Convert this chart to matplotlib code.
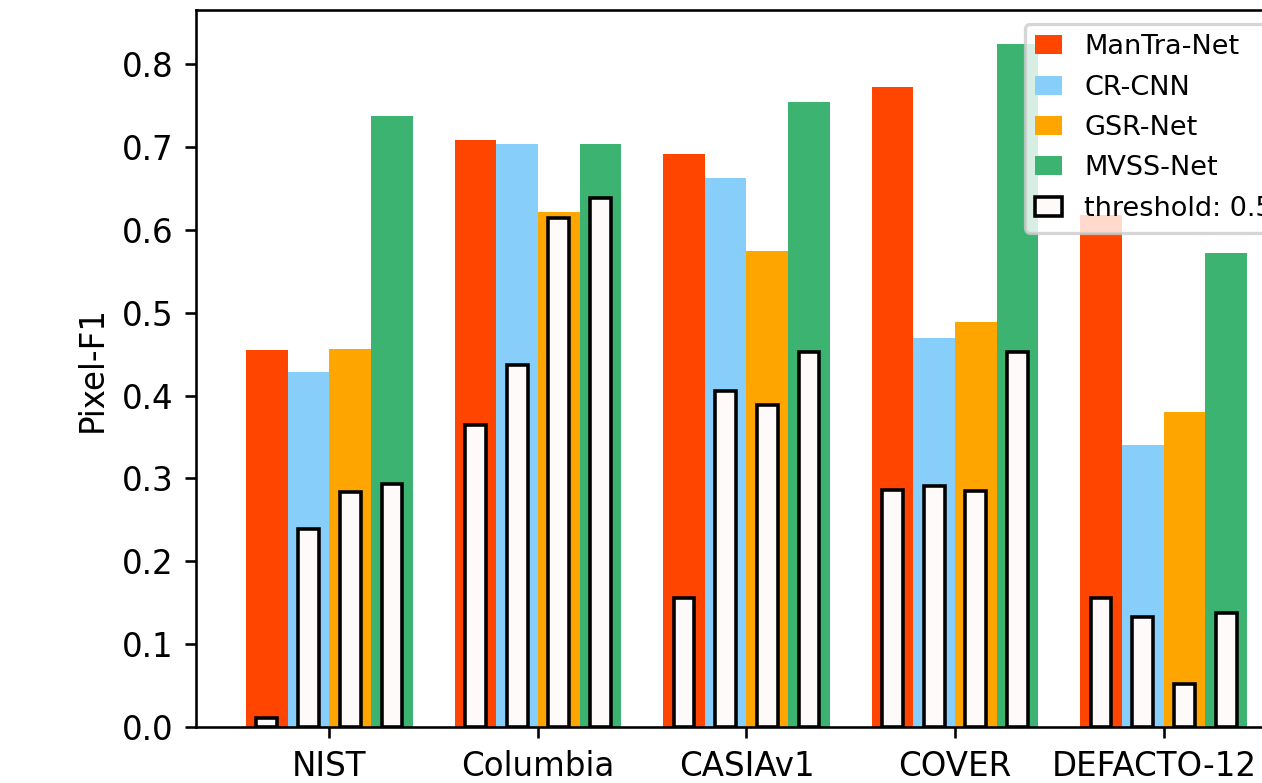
import numpy as np
import matplotlib.pyplot as plt
from matplotlib.transforms import ScaledTranslation

datasets = ['NIST', 'Columbia', 'CASIAv1', 'COVER', 'DEFACTO-12']
methods = ['ManTra-Net', 'CR-CNN', 'GSR-Net', 'MVSS-Net']
colors = ['orangered', 'lightskyblue', 'orange', 'mediumseagreen']

# best-threshold pixel F1
mantra = [0.455, 0.708, 0.692, 0.772, 0.618]
crcnn = [0.428, 0.704, 0.662, 0.470, 0.340]
gsrnet = [0.456, 0.622, 0.574, 0.489, 0.380]
mvss = [0.737, 0.703, 0.754, 0.824, 0.572]

# pixel F1 at threshold 0.5
mantra_05 = [0.011, 0.365, 0.156, 0.286, 0.156]
crcnn_05 = [0.239, 0.437, 0.406, 0.291, 0.133]
gsrnet_05 = [0.284, 0.614, 0.388, 0.285, 0.052]
mvss_05 = [0.293, 0.638, 0.452, 0.452, 0.137]

best = [mantra, crcnn, gsrnet, mvss]
fixed = [mantra_05, crcnn_05, gsrnet_05, mvss_05]

dpi = 234
fig = plt.figure(figsize=(1262 / dpi, 783 / dpi), dpi=dpi)
ax = fig.add_axes([196 / 1262, 56 / 783, 1101 / 1262, 717 / 783])

x = np.arange(len(datasets))
width = 0.2
offsets = [-0.3, -0.1, 0.1, 0.3]

for vals, name, c, off in zip(best, methods, colors, offsets):
    ax.bar(x + off, vals, width, color=c, label=name)

for i, (vals, off) in enumerate(zip(fixed, offsets)):
    ax.bar(x + off, vals, width / 2, color='snow', edgecolor='black',
           linewidth=1.1, label='threshold: 0.5' if i == 0 else None)

ax.set_xticks(x)
ax.set_xticklabels(datasets)
ax.set_ylabel('Pixel-F1')
ax.legend(loc='upper right', fontsize='small', handlelength=1.0,
          labelspacing=0.53)

# last label sits a little left of its tick in the original
last = ax.get_xticklabels()[-1]
last.set_transform(last.get_transform() + ScaledTranslation(-9 / dpi, 0, fig.dpi_scale_trans))

fig.savefig('out.png', dpi=dpi)
